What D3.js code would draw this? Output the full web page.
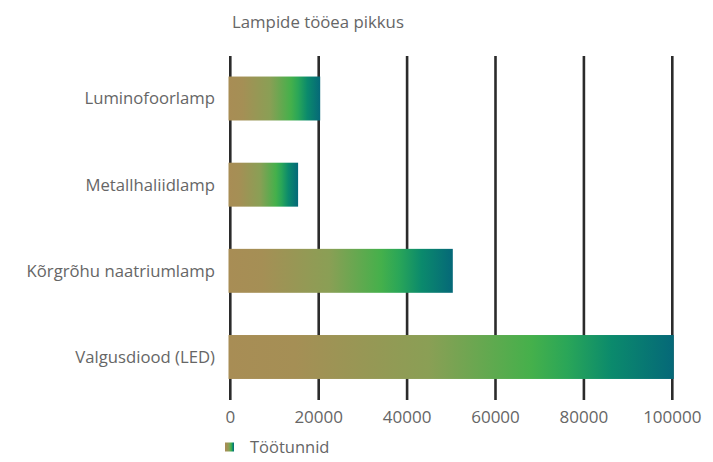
<!DOCTYPE html>
<html>
<head>
<meta charset="utf-8">
<script src="https://cdn.jsdelivr.net/npm/d3@7"></script>
<style>
  html, body { margin: 0; padding: 0; background: #fff; }
  svg { display: block; font-family: "Open Sans", "DejaVu Sans", sans-serif; }
</style>
</head>
<body>
<svg id="chart" width="713" height="462"></svg>
<script>
// Lamp types and their service life in operating hours
const lampTypes = ["Luminofoorlamp", "Metallhaliidlamp", "Kõrgrõhu naatriumlamp", "Valgusdiood (LED)"];
const lifeHours = [20000, 15000, 50000, 100000];
const tickValues = [0, 20000, 40000, 60000, 80000, 100000];
const chartTitle = "Lampide tööea pikkus";
const seriesName = "Töötunnid";

const svg = d3.select("#chart");
const textColor = "#666";

const x = d3.scaleLinear().domain([0, 100000]).range([230.3, 672.3]);
const y = d3.scaleBand().domain(lampTypes).range([55, 400.5])
  .paddingInner(0.49).paddingOuter(0.25);

// Horizontal colour ramp used by every bar and the legend swatch
const defs = svg.append("defs");
const grad = defs.append("linearGradient").attr("id", "lifeRamp")
  .attr("x1", "0%").attr("x2", "100%").attr("y1", "0%").attr("y2", "0%");
[
  [0, "#a88d55"], [0.15, "#a58f55"], [0.45, "#8a9f55"], [0.68, "#45b04b"],
  [0.76, "#2aa658"], [0.86, "#0b8a6c"], [1, "#056878"]
].forEach(([o, c]) => grad.append("stop").attr("offset", o).attr("stop-color", c));

// Vertical grid lines at each tick
svg.append("g").selectAll("line").data(tickValues).join("line")
  .attr("x1", d => x(d)).attr("x2", d => x(d))
  .attr("y1", 56).attr("y2", 400)
  .attr("stroke", "#2b2b2b").attr("stroke-width", 2.6);

// Bars
svg.append("g").selectAll("rect").data(lampTypes).join("rect")
  .attr("x", x(0) - 1.8)
  .attr("y", d => y(d))
  .attr("width", (d, i) => x(lifeHours[i]) - x(0) + 3.3)
  .attr("height", y.bandwidth())
  .attr("fill", "url(#lifeRamp)");

// Category labels
svg.append("g").selectAll("text").data(lampTypes).join("text")
  .attr("x", 215)
  .attr("y", d => y(d) + y.bandwidth() / 2)
  .attr("dy", "0.35em")
  .attr("text-anchor", "end")
  .attr("fill", textColor)
  .attr("font-size", 16.7)
  .text(d => d);

// X axis tick labels
svg.append("g").selectAll("text").data(tickValues).join("text")
  .attr("x", d => x(d))
  .attr("y", 417)
  .attr("dy", "0.35em")
  .attr("text-anchor", "middle")
  .attr("fill", textColor)
  .attr("font-size", 17)
  .text(d => d3.format("d")(d));

// Title
svg.append("text")
  .attr("x", 232).attr("y", 22).attr("dy", "0.35em")
  .attr("fill", textColor).attr("font-size", 16.8)
  .text(chartTitle);

// Legend
svg.append("rect")
  .attr("x", 225).attr("y", 442.5).attr("width", 9).attr("height", 9)
  .attr("fill", "url(#lifeRamp)");
svg.append("text")
  .attr("x", 250).attr("y", 447).attr("dy", "0.35em")
  .attr("fill", textColor).attr("font-size", 16.5)
  .text(seriesName);
</script>
</body>
</html>
